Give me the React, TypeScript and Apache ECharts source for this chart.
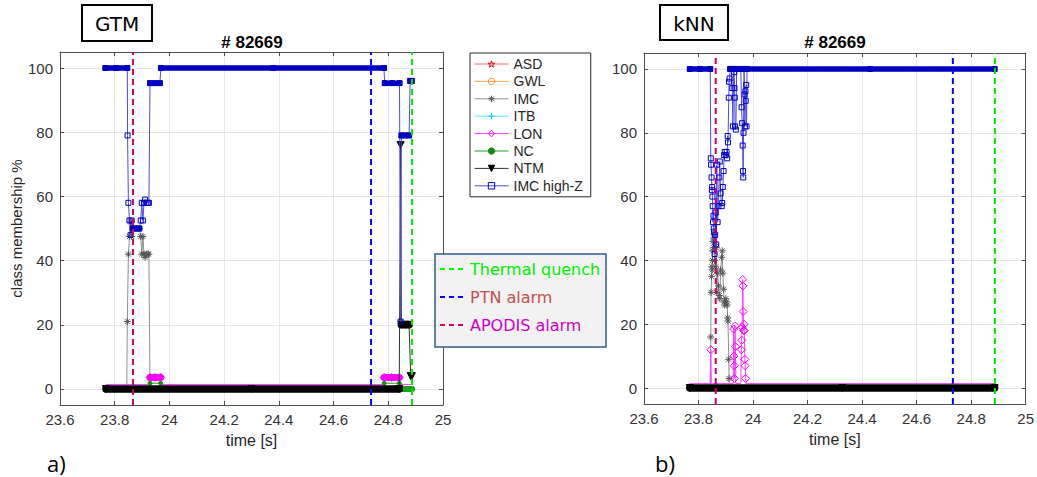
import React, { useEffect, useRef } from "react";
import * as echarts from "echarts";

// ---------- axes / labels ----------
const X_MIN = 23.6;
const X_MAX = 25;
const X_STEP = 0.2;
const Y_MIN = -5;
const Y_MAX = 105;
const SHOT_TITLE = "# 82669";
const PANEL_NAMES = ["GTM", "kNN"];
const PANEL_TAGS = ["a)", "b)"];
const CLASS_NAMES = ["ASD", "GWL", "IMC", "ITB", "LON", "NC", "NTM", "IMC high-Z"];
const ALARM_NAMES = ["Thermal quench", "PTN alarm", "APODIS alarm"];

// alarm times [APODIS, PTN, Thermal quench]
const GTM_ALARMS = [23.867, 24.737, 24.887];
const KNN_ALARMS = [23.863, 24.733, 24.887];

// ---------- GTM panel (a) ----------
const GTM_ZERO = [[23.768, 0], [24.84, 0]];
const GTM_HIGHZ = [
  [23.766, 100], [23.806, 100], [23.846, 100], [23.847, 79], [23.85, 58], [23.854, 52.5],
  [23.858, 48], [23.862, 52.5], [23.866, 50], [23.878, 50], [23.89, 50], [23.895, 52.5],
  [23.899, 58], [23.903, 52.5], [23.907, 58], [23.911, 59], [23.916, 58], [23.921, 58],
  [23.925, 58], [23.929, 95.3], [23.947, 95.3], [23.965, 95.3], [23.969, 100], [24.38, 100],
  [24.784, 100], [24.787, 95.3], [24.814, 95.3], [24.841, 95.3], [24.845, 21], [24.848, 79],
  [24.862, 79], [24.876, 79], [24.88, 96], [24.886, 96],
];
// plateaus: [start, end, value]
const GTM_HIGHZ_PLATEAUS = [
  [23.766, 23.846, 100], [23.866, 23.89, 50], [23.929, 23.965, 95.3], [23.969, 24.784, 100],
  [24.787, 24.841, 95.3], [24.848, 24.876, 79], [24.88, 24.886, 96],
];
const GTM_IMC = [
  [23.768, 0], [23.844, 0], [23.846, 21], [23.85, 42], [23.854, 47.5], [23.858, 52],
  [23.862, 47.5], [23.866, 50], [23.878, 50], [23.89, 50], [23.895, 47.5], [23.899, 42],
  [23.903, 47.5], [23.907, 42], [23.911, 41], [23.916, 42], [23.921, 42], [23.925, 42],
  [23.929, 0], [24.84, 0],
];
const GTM_LON = [
  [23.768, 1.4], [23.926, 1.4], [23.929, 3.6], [23.947, 3.6], [23.968, 3.6], [23.971, 1.4],
  [24.782, 1.4], [24.785, 3.6], [24.812, 3.6], [24.84, 3.6], [24.843, 1.4], [24.888, 1.4],
];
const GTM_LON_PLATEAUS = [[23.929, 23.968, 3.6], [24.785, 24.84, 3.6]];
const GTM_NC = [
  [23.768, 0], [23.926, 0], [23.929, 1.8], [23.968, 1.8], [23.971, 0], [24.782, 0],
  [24.785, 1.8], [24.84, 1.8], [24.843, 0], [24.889, 0],
];
const GTM_NC_PLATEAUS = [[24.851, 24.887, 0]];
const GTM_NTM = [
  [23.768, 0], [24.3, 0], [24.84, 0], [24.845, 76], [24.848, 20], [24.862, 20],
  [24.876, 20], [24.882, 4], [24.886, 4],
];
const GTM_NTM_PLATEAUS = [[23.768, 24.84, 0], [24.848, 24.876, 20]];

// ---------- kNN panel (b) ----------
const KNN_ZERO = [[23.768, 0], [24.886, 0]];
const KNN_HIGHZ = [
  [23.768, 100], [23.805, 100], [23.843, 100], [23.845, 72], [23.846, 70], [23.848, 66],
  [23.849, 62], [23.85, 63], [23.851, 60], [23.852, 57], [23.853, 52], [23.855, 54],
  [23.856, 50], [23.857, 49], [23.859, 42], [23.861, 48], [23.863, 55], [23.865, 45],
  [23.867, 70], [23.87, 52], [23.873, 57], [23.876, 66], [23.878, 71], [23.881, 61],
  [23.885, 57], [23.887, 58], [23.889, 63], [23.892, 68], [23.894, 73], [23.896, 74],
  [23.9, 73], [23.903, 74], [23.905, 72], [23.907, 79], [23.908, 77], [23.911, 91],
  [23.912, 96], [23.914, 97], [23.916, 100], [23.92, 100], [23.924, 94], [23.926, 82],
  [23.929, 100], [23.931, 99], [23.932, 94], [23.933, 91], [23.934, 82], [23.937, 81],
  [23.94, 100], [23.955, 100], [23.958, 88], [23.96, 83], [23.962, 76], [23.963, 68],
  [23.964, 66], [23.965, 80], [23.967, 100], [23.969, 92], [23.97, 82], [23.972, 93],
  [23.973, 90], [23.975, 95], [23.976, 82], [23.978, 100], [24.43, 100], [24.886, 100],
];
const KNN_HIGHZ_PLATEAUS = [[23.768, 23.843, 100], [23.916, 24.886, 100]];
const KNN_IMC = [
  [23.768, 0], [23.843, 0], [23.845, 16], [23.846, 30], [23.848, 35], [23.849, 38],
  [23.85, 37], [23.851, 40], [23.852, 43], [23.853, 46], [23.855, 44], [23.856, 47],
  [23.857, 48], [23.859, 40], [23.861, 45], [23.863, 38], [23.865, 44], [23.867, 30],
  [23.87, 36], [23.873, 32], [23.876, 29], [23.878, 28], [23.881, 37], [23.885, 41],
  [23.887, 43], [23.889, 36], [23.892, 31], [23.894, 27], [23.896, 26], [23.9, 28],
  [23.903, 27], [23.905, 26], [23.907, 22], [23.908, 21], [23.911, 9], [23.912, 3],
  [23.914, 0], [24.886, 0],
];
const KNN_LON = [
  [23.768, 1.4], [23.843, 1.4], [23.845, 12], [23.847, 1.4], [23.927, 1.4], [23.929, 18.5],
  [23.93, 10], [23.931, 7], [23.932, 3], [23.934, 19.5], [23.935, 13], [23.937, 1.4],
  [23.955, 1.4], [23.957, 12], [23.958, 15], [23.96, 19], [23.962, 34], [23.963, 32],
  [23.964, 24], [23.965, 18], [23.967, 20], [23.968, 18], [23.97, 9], [23.971, 7],
  [23.973, 3], [23.975, 1.4], [24.886, 1.4],
];
const KNN_NTM = [[23.768, 0], [24.327, 0], [24.886, 0]];
const KNN_NTM_PLATEAUS = [[23.768, 24.886, 0]];

// ---------- styling ----------
const FONT = "'Liberation Sans', Arial, Helvetica, sans-serif";
const HAND = "'DejaVu Sans', 'Noto Sans', sans-serif";
const AXIS_COLOR = "#4d4d4d";
const STAR = "path://M50,0L61,35L98,35L68,57L79,91L50,70L21,91L32,57L2,35L39,35Z";
const ASTER = "path://M0,50L100,50M50,0L50,100M15,15L85,85M85,15L15,85";
const PLUS = "path://M0,50L100,50M50,0L50,100";

const STYLE: Record<string, any> = {
  ASD: { line: "#ff6b6b", mark: "#ff0000", symbol: STAR, size: 8, fill: "transparent" },
  GWL: { line: "#ffa64d", mark: "#ff8c1a", symbol: "circle", size: 7, fill: "transparent" },
  IMC: { line: "#8f8f8f", mark: "#555555", symbol: ASTER, size: 7, fill: "transparent" },
  ITB: { line: "#55e6ff", mark: "#00ccff", symbol: PLUS, size: 8, fill: "transparent" },
  LON: { line: "#ff3dff", mark: "#ff00ff", symbol: "diamond", size: 8, fill: "transparent", minShow: 2 },
  NC: { line: "#1f9e1f", mark: "#168a16", symbol: "circle", size: 4, fill: "#168a16" },
  NTM: { line: "#333333", mark: "#000000", symbol: "triangle", size: 7, fill: "#000000", rotate: 180 },
  "IMC high-Z": { line: "#4a4ae8", mark: "#0000c8", symbol: "rect", size: 5, fill: "transparent" },
};

function thin(name: string, data: any[], gi: number, z: number, showSymbol = true) {
  const st = STYLE[name];
  const size = st.minShow
    ? (v: number[]) => (v[1] < st.minShow ? 0 : st.size)
    : st.size;
  return {
    type: "line",
    name,
    data,
    xAxisIndex: gi,
    yAxisIndex: gi,
    symbol: st.symbol,
    symbolSize: size,
    symbolRotate: st.rotate || 0,
    showSymbol,
    lineStyle: { color: st.line, width: 1 },
    itemStyle: { color: st.fill, borderColor: st.mark, borderWidth: 1 },
    emphasis: { disabled: true },
    silent: true,
    z,
  };
}

function plateaus(name: string, segs: number[][], gi: number, color: string, width: number, cap: string, z: number) {
  const data: any[] = [];
  segs.forEach((s) => {
    data.push([s[0], s[2]], [s[1], s[2]], [s[1], "-"]);
  });
  return {
    type: "line",
    name,
    data,
    xAxisIndex: gi,
    yAxisIndex: gi,
    symbol: "none",
    showSymbol: false,
    connectNulls: false,
    lineStyle: { color, width, cap },
    emphasis: { disabled: true },
    silent: true,
    z,
  };
}

function alarmLines(gi: number, times: number[]) {
  const colors = ["#cc0066", "#0000ff", "#00e600"];
  return times.map((t, i) => ({
    type: "line",
    name: "alarm-" + gi + "-" + i,
    data: [[t, Y_MIN], [t, Y_MAX]],
    xAxisIndex: gi,
    yAxisIndex: gi,
    symbol: "none",
    showSymbol: false,
    lineStyle: { color: colors[i], width: 2, type: [6, 4] },
    emphasis: { disabled: true },
    silent: true,
    z: 20,
  }));
}

function panel(gi: number, d: any) {
  const s: any[] = [];
  ["ASD", "GWL", "ITB"].forEach((n) => s.push(thin(n, d.zero, gi, 2, false)));
  s.push(thin("IMC", d.imc, gi, 3));
  s.push(thin("LON", d.lon, gi, 4));
  if (d.lonP) s.push(plateaus("lonbar" + gi, d.lonP, gi, "#ff00ff", 7, "round", 5));
  s.push(thin("NC", d.nc, gi, 5, d.ncShow));
  if (d.ncP) s.push(plateaus("ncbar" + gi, d.ncP, gi, "#17a317", 6, "round", 6));
  s.push(thin("NTM", d.ntm, gi, 7));
  s.push(plateaus("ntmbar" + gi, d.ntmP, gi, "#000000", 7.5, "round", 8));
  s.push(thin("IMC high-Z", d.hz, gi, 9));
  s.push(plateaus("hzbar" + gi, d.hzP, gi, "#0000c0", 5.5, "square", 10));
  s.push(...alarmLines(gi, d.alarms));
  return s;
}

function xAxis(gi: number, pos: string, main: boolean) {
  return {
    type: "value",
    gridIndex: gi,
    position: pos,
    min: X_MIN,
    max: X_MAX,
    interval: X_STEP,
    axisLine: { show: true, onZero: false, lineStyle: { color: AXIS_COLOR, width: 1 } },
    axisTick: { show: true, inside: true, length: 4, lineStyle: { color: AXIS_COLOR } },
    axisLabel: { show: main, color: "#333", fontSize: 15, fontFamily: FONT, margin: 7 },
    splitLine: { show: main, lineStyle: { color: "#e6e6e6", width: 1 } },
    name: main ? "time [s]" : "",
    nameLocation: "middle",
    nameGap: 27,
    nameTextStyle: { color: "#262626", fontSize: 16, fontFamily: FONT },
  };
}

function yAxis(gi: number, pos: string, main: boolean, name: string) {
  return {
    type: "value",
    gridIndex: gi,
    position: pos,
    min: Y_MIN,
    max: Y_MAX,
    axisLine: { show: true, onZero: false, lineStyle: { color: AXIS_COLOR, width: 1 } },
    axisTick: { show: true, inside: true, length: 4, lineStyle: { color: AXIS_COLOR } },
    axisLabel: {
      show: main, showMinLabel: false, showMaxLabel: false,
      color: "#333", fontSize: 15, fontFamily: FONT, margin: 7,
    },
    splitLine: { show: main, lineStyle: { color: "#e6e6e6", width: 1 } },
    name,
    nameLocation: "middle",
    nameGap: 36,
    nameTextStyle: { color: "#262626", fontSize: 15, fontFamily: FONT },
  };
}

function buildOption() {
  const panels = [
    {
      zero: GTM_ZERO, imc: GTM_IMC, lon: GTM_LON, lonP: GTM_LON_PLATEAUS, nc: GTM_NC, ncShow: true,
      ncP: GTM_NC_PLATEAUS, ntm: GTM_NTM, ntmP: GTM_NTM_PLATEAUS, hz: GTM_HIGHZ,
      hzP: GTM_HIGHZ_PLATEAUS, alarms: GTM_ALARMS,
    },
    {
      zero: KNN_ZERO, imc: KNN_IMC, lon: KNN_LON, lonP: null, nc: KNN_ZERO, ncShow: false,
      ncP: null, ntm: KNN_NTM, ntmP: KNN_NTM_PLATEAUS, hz: KNN_HIGHZ,
      hzP: KNN_HIGHZ_PLATEAUS, alarms: KNN_ALARMS,
    },
  ];
  const series: any[] = [];
  panels.forEach((p, i) => series.push(...panel(i, p)));

  const alarmDash = ["#00ff00", "#0000ff", "#cc0066"];
  const alarmText = ["#00ee00", "#c0504d", "#cc00cc"];
  const rowsY = [269, 297, 325];

  const graphic: any[] = [];
  const boxes = [
    { x: 82, y: 5, w: 70, h: 36 },
    { x: 660, y: 5, w: 68, h: 35 },
  ];
  boxes.forEach((b, i) => {
    graphic.push({
      type: "rect", z: 100,
      shape: { x: b.x, y: b.y, width: b.w, height: b.h },
      style: { fill: "#fff", stroke: "#000", lineWidth: 2 },
    });
    graphic.push({
      type: "text", z: 101, x: b.x + b.w / 2, y: b.y + b.h / 2 + 1,
      style: {
        text: PANEL_NAMES[i], fill: "#000", fontSize: 20, fontFamily: HAND,
        align: "center", verticalAlign: "middle", textAlign: "center", textVerticalAlign: "middle",
      },
    });
  });
  [252, 835].forEach((cx) => {
    graphic.push({
      type: "text", z: 101, x: cx, y: 42,
      style: {
        text: SHOT_TITLE, fill: "#000", fontSize: 17, fontWeight: "bold", fontFamily: FONT,
        align: "center", verticalAlign: "middle", textAlign: "center", textVerticalAlign: "middle",
      },
    });
  });
  [[47, 463], [655, 463]].forEach((p, i) => {
    graphic.push({
      type: "text", z: 101, x: p[0], y: p[1],
      style: {
        text: PANEL_TAGS[i], fill: "#000", fontSize: 22, fontFamily: "'Open Sans', sans-serif",
        align: "left", verticalAlign: "middle", textAlign: "left", textVerticalAlign: "middle",
      },
    });
  });
  graphic.push({
    type: "rect", z: 100,
    shape: { x: 435, y: 254, width: 171, height: 93 },
    style: { fill: "#f2f2f2", stroke: "#2f5a8c", lineWidth: 1.5 },
  });
  ALARM_NAMES.forEach((n, i) => {
    graphic.push({
      type: "line", z: 101,
      shape: { x1: 440, y1: rowsY[i], x2: 464, y2: rowsY[i] },
      style: { stroke: alarmDash[i], lineWidth: 2, lineDash: [5, 4] },
    });
    graphic.push({
      type: "text", z: 101, x: 470, y: rowsY[i],
      style: {
        text: n, fill: alarmText[i], fontSize: 16, fontFamily: HAND,
        align: "left", verticalAlign: "middle", textAlign: "left", textVerticalAlign: "middle",
      },
    });
  });

  return {
    animation: false,
    backgroundColor: "#fff",
    grid: [
      { left: 60, top: 52, width: 383, height: 353 },
      { left: 644, top: 53, width: 383, height: 351 },
    ],
    xAxis: [xAxis(0, "bottom", true), xAxis(1, "bottom", true), xAxis(0, "top", false), xAxis(1, "top", false)],
    yAxis: [
      yAxis(0, "left", true, "class membership %"),
      yAxis(1, "left", true, ""),
      yAxis(0, "right", false, ""),
      yAxis(1, "right", false, ""),
    ],
    legend: {
      data: CLASS_NAMES.map((n) => ({
        name: n,
        itemStyle: { color: STYLE[n].fill, borderColor: STYLE[n].mark, borderWidth: 1 },
        lineStyle: { color: STYLE[n].line, width: 1 },
      })),
      orient: "vertical",
      left: 470,
      top: 53,
      itemWidth: 34,
      itemHeight: 8,
      itemGap: 3.4,
      padding: [4, 8, 4, 4],
      backgroundColor: "#fff",
      borderColor: "#262626",
      borderWidth: 1,
      selectedMode: false,
      textStyle: { fontSize: 14, color: "#262626", fontFamily: FONT, lineHeight: 14 },
      z: 50,
    },
    graphic,
    series,
  };
}

export default function App() {
  const ref = useRef<HTMLDivElement>(null);
  useEffect(() => {
    if (!ref.current) return;
    const chart = echarts.init(ref.current, null, { renderer: "svg" });
    chart.setOption(buildOption() as any);
    return () => chart.dispose();
  }, []);
  return (
    <div
      ref={ref}
      style={{ position: "fixed", left: 0, top: 0, width: 1037, height: 477, background: "#fff" }}
    />
  );
}
